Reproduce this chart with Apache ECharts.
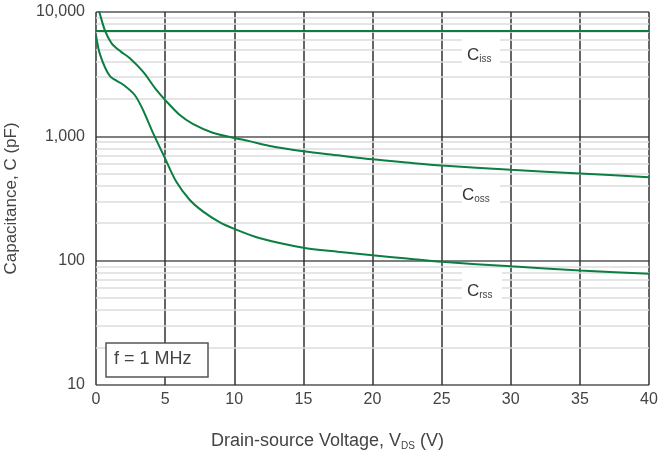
<!DOCTYPE html>
<html>
<head>
<meta charset="utf-8">
<script src="https://cdn.jsdelivr.net/npm/echarts@6/dist/echarts.min.js"></script>
<style>
  html, body { margin: 0; padding: 0; background: #fff; }
  #main { width: 660px; height: 452px; }
</style>
</head>
<body>
<div id="main"></div>
<script>
    // Drain-source voltage (V) vs capacitance (pF)
    var cissData = [[0, 7050], [40, 7050]];
    var cossData = [
        [0.1, 11200], [0.24, 10000], [0.65, 7080], [1.13, 5600], [1.8, 4800], [2.45, 4250],
        [3.4, 3310], [4.37, 2360], [5.0, 1960], [6.04, 1490], [7.0, 1260], [8.44, 1070],
        [10, 971], [11.1, 915], [12.5, 840], [15, 758], [17.5, 703], [20, 653], [22.5, 615],
        [25, 582], [30, 538], [35, 503], [40, 468]
    ];
    var crssData = [
        [0, 6500], [0.3, 4520], [1.0, 3060], [2.0, 2590], [2.8, 2150], [3.4, 1630],
        [4.13, 1060], [4.93, 690], [5.8, 433], [6.77, 309], [7.73, 249], [8.9, 205],
        [10, 180], [11.8, 152], [15, 127], [17.5, 118], [20, 110.5], [22.5, 104],
        [25, 98], [30, 90], [35, 83.5], [40, 78.5]
    ];
    var minorLines = [20, 30, 40, 50, 60, 70, 80, 90, 200, 300, 400, 500, 600, 700, 800, 900,
        2000, 3000, 4000, 5000, 6000, 7000, 8000, 9000];
    var yTickLabels = {10: '10', 100: '100', 1000: '1,000', 10000: '10,000'};

    var green = '#0b7f41';
    var chart = echarts.init(document.getElementById('main'));

    var option = {
        animation: false,
        textStyle: { fontFamily: 'Liberation Sans, Arial, sans-serif' },
        grid: { left: 96, right: 11, top: 12, bottom: 67, containLabel: false, outerBoundsMode: 'none' },
        xAxis: {
            type: 'value', min: 0, max: 40, interval: 5,
            axisLine: { show: false },
            axisTick: { show: false },
            axisLabel: { color: '#444', fontSize: 16, margin: 7 },
            splitLine: { show: true, lineStyle: { color: '#333', width: 1.5 } },
            name: 'Drain-source Voltage, V{s|DS} (V)',
            nameLocation: 'middle', nameGap: 46,
            nameTextStyle: {
                color: '#444', fontSize: 18, padding: [0, 90, 0, 0],
                rich: { s: { fontSize: 10, padding: [10, 0, 0, 0], color: '#444' } }
            }
        },
        yAxis: {
            type: 'log', logBase: 10, min: 10, max: 10000,
            axisLine: { show: false },
            axisTick: { show: false },
            axisLabel: {
                color: '#444', fontSize: 16, margin: 11,
                formatter: function (v) { return yTickLabels[v] || ''; }
            },
            splitLine: { show: true, lineStyle: { color: '#555', width: 1.5 } },
            name: 'Capacitance, C (pF)',
            nameLocation: 'middle', nameGap: 76,
            nameTextStyle: { color: '#444', fontSize: 17 }
        },
        series: [
            {
                type: 'line', data: [[0, 10], [40, 10]], z: 1, silent: true,
                showSymbol: false, lineStyle: { opacity: 0 },
                markLine: {
                    z: 1, silent: true, symbol: 'none', label: { show: false },
                    lineStyle: { color: '#dcdcdc', width: 1.5, type: 'solid' },
                    data: minorLines.map(function (v) { return { yAxis: v }; })
                }
            },
            { name: 'Ciss', type: 'line', data: cissData, z: 10, showSymbol: false,
              lineStyle: { color: green, width: 2 } },
            { name: 'Coss', type: 'line', data: cossData, z: 10, showSymbol: false, smooth: 0.3,
              lineStyle: { color: green, width: 2 } },
            { name: 'Crss', type: 'line', data: crssData, z: 10, showSymbol: false, smooth: 0.3,
              lineStyle: { color: green, width: 2 } }
        ],
        graphic: [
            { type: 'rect', z: 100, shape: { x: 462, y: 37, width: 38, height: 28 }, style: { fill: '#fff' } },
            { type: 'text', z: 101, left: 467, top: 47, style: {
                text: 'C{s|iss}', fill: '#333', font: '17px Liberation Sans, Arial',
                rich: { s: { fontSize: 10, padding: [8, 0, 0, 0], fill: '#444' } } } },
            { type: 'rect', z: 100, shape: { x: 462, y: 182, width: 38, height: 28 }, style: { fill: '#fff' } },
            { type: 'text', z: 101, left: 462, top: 187, style: {
                text: 'C{s|oss}', fill: '#333', font: '17px Liberation Sans, Arial',
                rich: { s: { fontSize: 10, padding: [8, 0, 0, 0], fill: '#444' } } } },
            { type: 'rect', z: 100, shape: { x: 462, y: 269, width: 40, height: 34 }, style: { fill: '#fff' } },
            { type: 'text', z: 101, left: 467, top: 283, style: {
                text: 'C{s|rss}', fill: '#333', font: '17px Liberation Sans, Arial',
                rich: { s: { fontSize: 10, padding: [8, 0, 0, 0], fill: '#444' } } } },
            { type: 'rect', z: 100, shape: { x: 106, y: 343, width: 102, height: 34 },
              style: { fill: '#fff', stroke: '#555', lineWidth: 1.5 } },
            { type: 'text', z: 101, left: 114, top: 350, style: {
                text: 'f = 1 MHz', fill: '#444', font: '18px Liberation Sans, Arial' } }
        ]
    };
    chart.setOption(option);
</script>
</body>
</html>
